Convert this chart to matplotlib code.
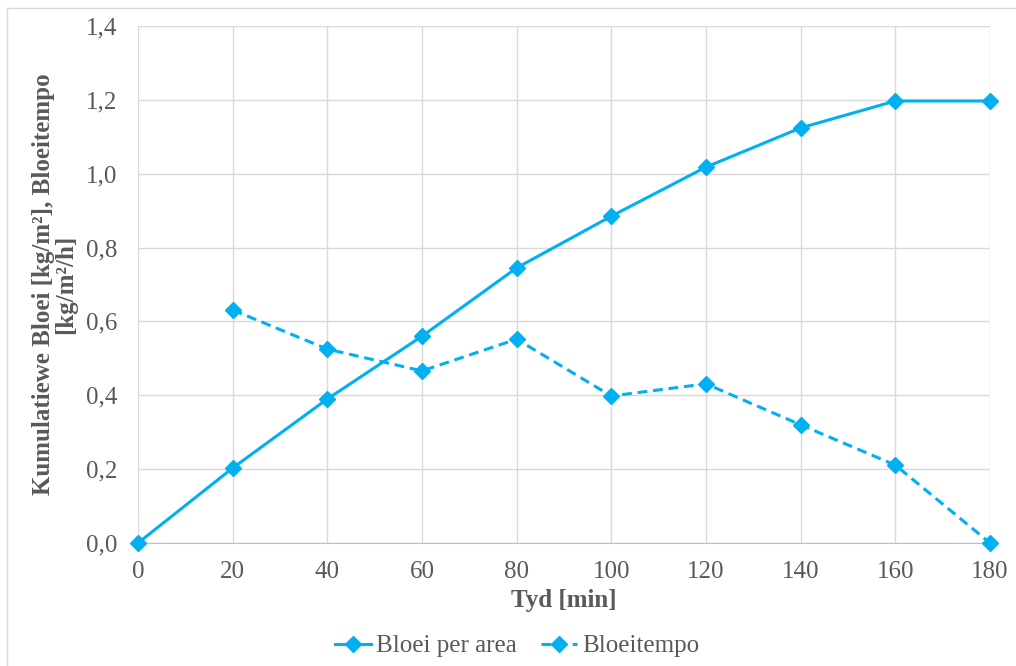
import matplotlib
matplotlib.use("Agg")
import matplotlib.pyplot as plt
from matplotlib.patches import Rectangle

# Time in minutes
tyd = [0, 20, 40, 60, 80, 100, 120, 140, 160, 180]
# Cumulative bloom per area [kg/m²]
bloei_per_area = [0.0, 0.203, 0.390, 0.560, 0.745, 0.885, 1.018, 1.124, 1.197, 1.197]
# Bloom rate [kg/m²/h] (starts at 20 min)
tyd_tempo = [20, 40, 60, 80, 100, 120, 140, 160, 180]
bloeitempo = [0.631, 0.525, 0.466, 0.552, 0.398, 0.431, 0.320, 0.211, 0.0]

x_ticks = list(range(0, 181, 20))
y_ticks = [0.0, 0.2, 0.4, 0.6, 0.8, 1.0, 1.2, 1.4]

blue = "#00B0F0"
grid_c = "#D9D9D9"
text_c = "#595959"

plt.rcParams["font.family"] = ["Liberation Serif", "DejaVu Serif"]

W, H = 1016, 666
fig = plt.figure(figsize=(W / 100, H / 100), dpi=100)
ax = fig.add_axes([138 / W, 1 - 543 / H, (990 - 138) / W, (543 - 26) / H])

ax.plot(tyd, bloei_per_area, color=blue, lw=2.2, marker="D", ms=8.5,
        label="Bloei per area", clip_on=False, zorder=3)
ax.plot(tyd_tempo, bloeitempo, color=blue, lw=2.2, ls=(0, (3.2, 1.9)), marker="D", ms=8.5,
        label="Bloeitempo", clip_on=False, zorder=3)

ax.set_xlim(0, 180)
ax.set_ylim(0, 1.4)
ax.set_xticks(x_ticks)
ax.set_yticks(y_ticks)
ax.set_yticklabels([f"{v:.1f}".replace(".", ",") for v in y_ticks])
ax.grid(True, color=grid_c, lw=1)
ax.set_axisbelow(True)
for s in ["top", "right", "left"]:
    ax.spines[s].set_visible(False)
ax.spines["bottom"].set_color("#BFBFBF")
ax.tick_params(axis="both", length=0, labelsize=18, colors=text_c)
ax.tick_params(axis="y", pad=15)
ax.tick_params(axis="x", pad=13)

ax.set_xlabel("Tyd [min]", fontsize=18, fontweight="bold", color=text_c, labelpad=4)
ax.set_ylabel("Kumulatiewe Bloei [kg/m²], Bloeitempo\n[kg/m²/h]", fontsize=18,
              fontweight="bold", color=text_c, labelpad=6, linespacing=0.95)

leg = fig.legend(loc="center", bbox_to_anchor=(517 / W, 1 - 646 / H), ncol=2,
                 frameon=False, fontsize=18, handlelength=1.45, columnspacing=0.95,
                 handletextpad=0.2, borderpad=0)
for t in leg.get_texts():
    t.set_color(text_c)

fig.patches.append(Rectangle((7 / W, -0.05), 1.2, 1 - 8 / H + 0.05, transform=fig.transFigure,
                             fill=False, edgecolor="#D9D9D9", lw=1))

fig.savefig("out.png", dpi=100)
